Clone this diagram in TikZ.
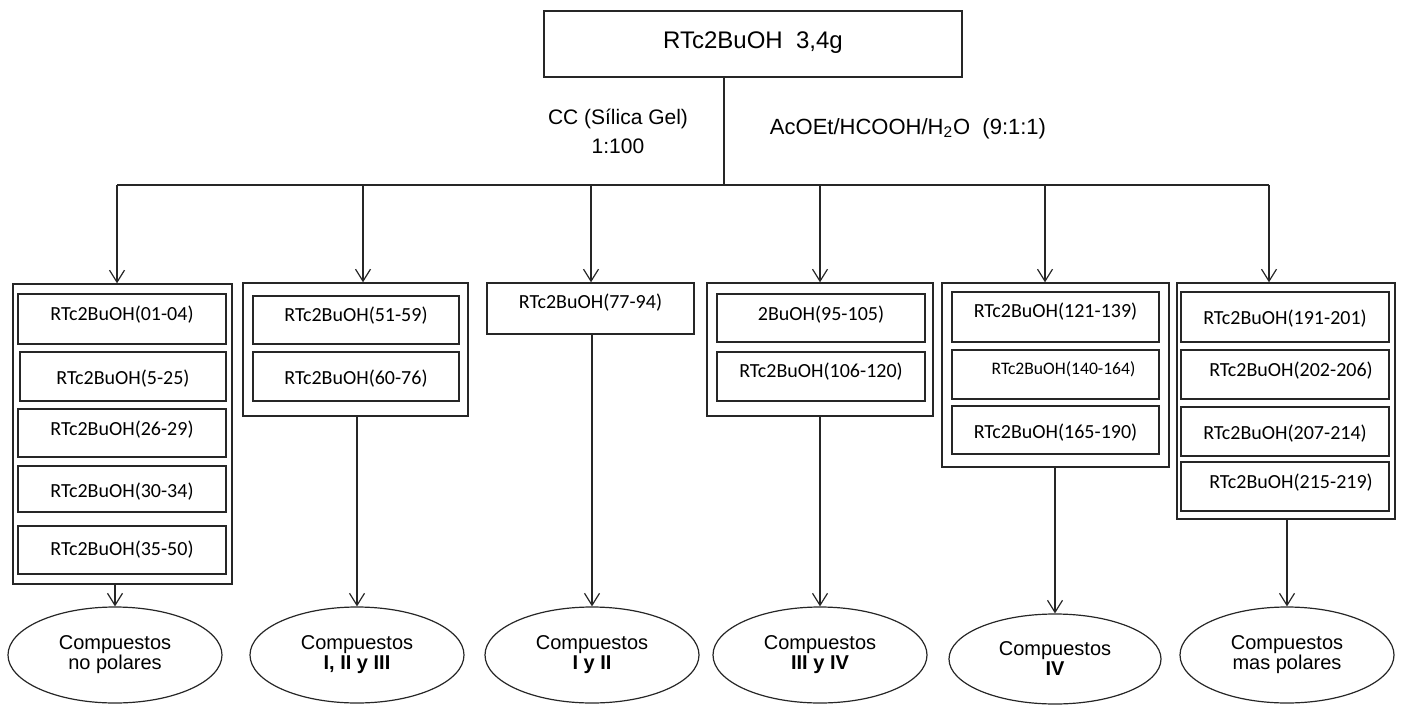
\documentclass[tikz,border=0pt]{standalone}
\usepackage{fontspec}
\setmainfont{Liberation Sans}
\newfontfamily\carl{Carlito}
\usetikzlibrary{arrows.meta,shapes.geometric}
\tikzset{
  ln/.style={line width=0.6pt, draw=black!85},
  arr/.style={ln, -{Straight Barb[length=6pt,width=7.5pt]}},
  grp/.style 2 args={draw=black!85, line width=0.7pt, inner sep=0pt, minimum width=#1, minimum height=#2},
  sub/.style 2 args={draw=black!85, line width=0.7pt, inner sep=0pt, minimum width=#1, minimum height=#2,
    font=\carl\fontsize{10}{12}\selectfont, text height=7pt, text depth=2pt},
  tv/.style 2 args={text height=#1, text depth=#2},
  oval/.style={ellipse, draw=black!85, line width=0.6pt, minimum width=107pt, minimum height=48pt,
    inner sep=0pt, align=center, font=\fontsize{10}{11}\selectfont},
}
\begin{document}
\begin{tikzpicture}[x=0.5pt,y=-0.5pt]
\useasboundingbox (0,0) rectangle (1402,706);

% top
\node[grp={209pt}{33pt}, font=\fontsize{12}{14}\selectfont, tv={8.5pt}{3.5pt}] (top) at (753,44) {RTc2BuOH\ \ 3,4g};
\node[align=center, font=\fontsize{10.5}{12.5}\selectfont] (cc) at (618,131) {CC (Sílica Gel)\\[2pt]1:100};
\node[font=\fontsize{11}{13}\selectfont] (solv) at (908,129) {AcOEt/HCOOH/H\textsubscript{2}O\ \ (9:1:1)};

% bus
\coordinate (j) at (724,185);
\coordinate (d1) at (117,185);
\coordinate (d2) at (363,185);
\coordinate (d3) at (591,185);
\coordinate (d4) at (820,185);
\coordinate (d5) at (1045,185);
\coordinate (d6) at (1269,185);

% group 1
\node[grp={109.5pt}{150pt}] (g1) at (122.5,434) {};
\node[sub={104pt}{25pt}, tv={5pt}{4pt}] (s1a) at (122,319) {RTc2BuOH(01-04)};
\node[sub={103pt}{24.5pt}, tv={8.5pt}{0.5pt}] (s1b) at (123,376.5) {RTc2BuOH(5-25)};
\node[sub={104pt}{24pt}, tv={5.5pt}{3.5pt}] (s1c) at (122,433) {RTc2BuOH(26-29)};
\node[sub={104pt}{23pt}, tv={8.5pt}{0.5pt}] (s1d) at (122,489) {RTc2BuOH(30-34)};
\node[sub={104pt}{24pt}] (s1e) at (122,550) {RTc2BuOH(35-50)};

% group 2
\node[grp={112.5pt}{66.5pt}] (g2) at (355.5,349.5) {};
\node[sub={103pt}{24pt}, tv={5pt}{4pt}] (s2a) at (356,320) {RTc2BuOH(51-59)};
\node[sub={103pt}{24.5pt}, tv={8.25pt}{0.75pt}] (s2b) at (356,376.5) {RTc2BuOH(60-76)};

% group 3
\node[sub={103.5pt}{25.5pt}, tv={4.25pt}{4.75pt}] (g3) at (590.5,308.5) {RTc2BuOH(77-94)};

% group 4
\node[grp={113pt}{66.5pt}] (g4) at (820,349.5) {};
\node[sub={104pt}{24pt}, tv={5.5pt}{3.5pt}] (s4a) at (821,318) {2BuOH(95-105)};
\node[sub={104pt}{24.5pt}, tv={4.75pt}{4.25pt}] (s4b) at (821,376.5) {RTc2BuOH(106-120)};

% group 5
\node[grp={113.5pt}{92pt}] (g5) at (1055.5,375) {};
\node[sub={103.5pt}{25pt}, tv={4.5pt}{4.5pt}] (s5a) at (1055.5,317) {RTc2BuOH(121-139)};
\node[sub={103.5pt}{24.5pt}, tv={4.5pt}{4.5pt}, font=\carl\fontsize{8.8}{10}\selectfont] (s5b) at (1055.5,374.5) {\hspace*{8pt}RTc2BuOH(140-164)};
\node[sub={103.5pt}{24pt}, tv={8.5pt}{0.5pt}] (s5c) at (1055.5,430) {RTc2BuOH(165-190)};

% group 6
\node[grp={109pt}{118pt}] (g6) at (1286,401) {};
\node[sub={104pt}{25pt}, tv={8pt}{1pt}] (s6a) at (1285,317) {RTc2BuOH(191-201)};
\node[sub={104pt}{24.5pt}, tv={5.25pt}{3.75pt}] (s6b) at (1285,374.5) {\hspace*{6pt}RTc2BuOH(202-206)};
\node[sub={104pt}{24.5pt}, tv={8.25pt}{0.75pt}] (s6c) at (1285,431.5) {RTc2BuOH(207-214)};
\node[sub={104pt}{24.5pt}, tv={5.25pt}{3.75pt}] (s6d) at (1285,486.5) {\hspace*{6pt}RTc2BuOH(215-219)};

% ellipses
\node[oval] (e1) at (115,655) {Compuestos\\[-1pt]no polares};
\node[oval] (e2) at (357,655) {Compuestos\\[-1pt]\textbf{I, II y III}};
\node[oval] (e3) at (592,655) {Compuestos\\[-1pt]\textbf{I y II}};
\node[oval] (e4) at (820,655) {Compuestos\\[-1pt]\textbf{III y IV}};
\node[oval, minimum width=106pt, minimum height=45pt] (e5) at (1055,659) {Compuestos\\[-1pt]\textbf{IV}};
\node[oval] (e6) at (1287,655) {Compuestos\\[-1pt]mas polares};

% connectors
\draw[ln] (j |- top.south) -- (j);
\draw[ln] (d1) -- (d6);
\draw[arr] (d1) -- (d1 |- g1.north);
\draw[arr] (d2) -- (d2 |- g2.north);
\draw[arr] (d3) -- (d3 |- g3.north);
\draw[arr] (d4) -- (d4 |- g4.north);
\draw[arr] (d5) -- (d5 |- g5.north);
\draw[arr] (d6) -- (d6 |- g6.north);

\draw[arr] (e1.north |- g1.south) -- (e1.north);
\draw[arr] (e2.north |- g2.south) -- (e2.north);
\draw[arr] (e3.north |- g3.south) -- (e3.north);
\draw[arr] (e4.north |- g4.south) -- (e4.north);
\draw[arr] (e5.north |- g5.south) -- (e5.north);
\draw[arr] (e6.north |- g6.south) -- (e6.north);
\end{tikzpicture}
\end{document}
